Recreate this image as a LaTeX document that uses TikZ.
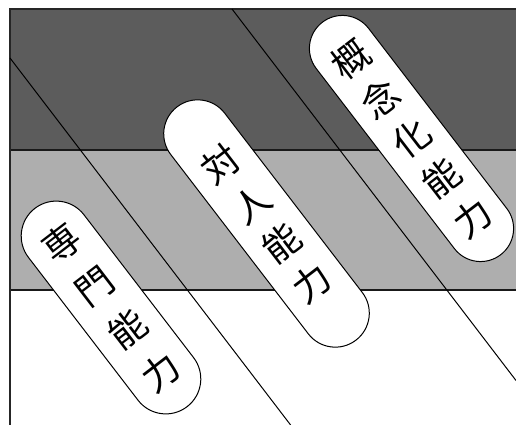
\documentclass[tikz,border=0pt]{standalone}
\usepackage{fontspec}
\newfontfamily\jp{Noto Sans CJK JP}
\definecolor{darkband}{RGB}{92,92,92}
\definecolor{lightband}{RGB}{174,174,174}
\begin{document}
\begin{tikzpicture}[x=1pt,y=-1pt,
  frameline/.style={draw=black!85, line width=1.4pt},
  bandline/.style={draw=black!90, line width=2.4pt},
  diag/.style={draw=black, line width=1pt},
  pill/.style n args={3}{draw=black, line width=1pt, fill=white,
    rounded corners=#1pt-0.01pt, minimum width=2*#1pt, minimum height=#2pt,
    inner sep=0pt, rotate=37.5, align=center,
    font=\jp\fontsize{37}{#3}\selectfont}]
\useasboundingbox (0,0) rectangle (516,425);
\begin{scope}
\clip (0,0) rectangle (516,425);
% bands
\fill[darkband] (10,9) rectangle (520,150);
\fill[lightband] (10,150) rectangle (520,290);
\coordinate (b1a) at (10,150); \coordinate (b1b) at (520,150);
\coordinate (b2a) at (10,290); \coordinate (b2b) at (520,290);
\draw[bandline] (b1a) -- (b1b);
\draw[bandline] (b2a) -- (b2b);
% frame
\coordinate (tl) at (10,9); \coordinate (tr) at (520,9); \coordinate (bl) at (10,430);
\draw[frameline] (tr) -- (tl) -- (bl);
% diagonal lines
\coordinate (l1a) at (10,58); \coordinate (l1b) at (290.6,425);
\coordinate (l2a) at (232,9); \coordinate (l2b) at (516,380.5);
\draw[diag] (l1a) -- (l1b);
\draw[diag] (l2a) -- (l2b);
% pills
\node[pill={35}{250}{54}] (p1) at (111,307.5) {専\\門\\能\\力};
\node[pill={34}{294}{50}] (p2) at (266.5,223.5) {対\\人\\能\\力};
\node[pill={33}{293}{50}] (p3) at (411.5,138.5) {概\\念\\化\\能\\力};
\end{scope}
\end{tikzpicture}
\end{document}
